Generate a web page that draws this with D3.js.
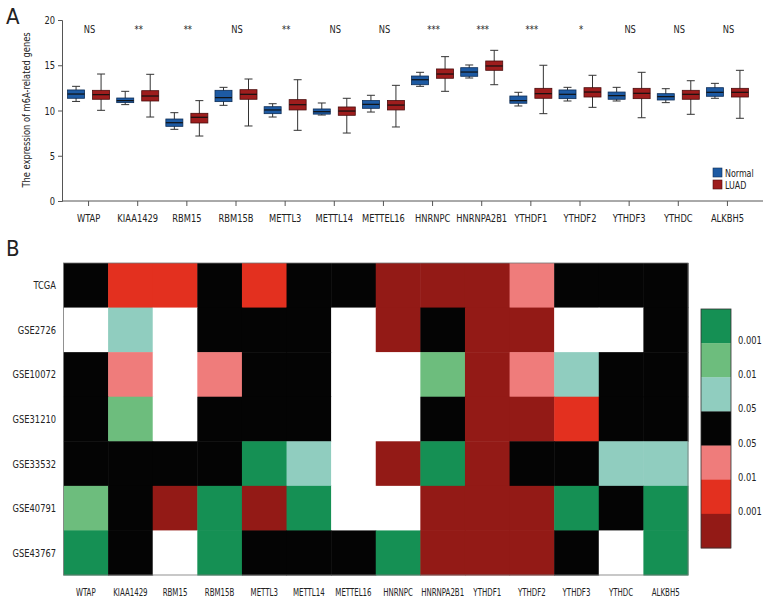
<!DOCTYPE html>
<html>
<head>
<meta charset="utf-8">
<script src="https://cdn.jsdelivr.net/npm/d3@7"></script>
<style>
  body { margin: 0; background: #fff; }
  svg text { font-family: "Liberation Sans Narrow", "DejaVu Sans Condensed", "Roboto Condensed", sans-serif; fill: #222; }
</style>
</head>
<body>
<div id="chart"></div>
<script>
// ---- data ----
const genes = ["WTAP", "KIAA1429", "RBM15", "RBM15B", "METTL3", "METTL14", "METTEL16",
  "HNRNPC", "HNRNPA2B1", "YTHDF1", "YTHDF2", "YTHDF3", "YTHDC", "ALKBH5"];
const groups = ["Normal", "LUAD"];
const signif = ["NS", "**", "**", "NS", "**", "NS", "NS", "***", "***", "***", "*", "NS", "NS", "NS"];

// [whisker low, q1, median, q3, whisker high]
const normalStats = [
  [11.0, 11.35, 11.82, 12.27, 12.67],
  [10.65, 10.87, 11.09, 11.38, 12.12],
  [7.92, 8.25, 8.65, 9.06, 9.76],
  [10.57, 10.98, 11.42, 12.23, 12.56],
  [9.28, 9.65, 10.06, 10.42, 10.75],
  [9.5, 9.6, 9.87, 10.17, 10.83],
  [9.83, 10.24, 10.68, 11.1, 11.68],
  [12.67, 12.85, 13.4, 13.81, 14.22],
  [13.59, 13.78, 14.25, 14.73, 15.03],
  [10.5, 10.8, 11.09, 11.6, 12.01],
  [11.05, 11.31, 11.79, 12.27, 12.56],
  [11.05, 11.24, 11.64, 12.04, 12.56],
  [10.87, 11.16, 11.53, 11.86, 12.41],
  [11.35, 11.57, 12.01, 12.52, 13.0]
];
const luadStats = [
  [10.02, 11.24, 11.75, 12.23, 14.03],
  [9.28, 11.05, 11.6, 12.19, 14.0],
  [7.18, 8.62, 9.25, 9.69, 11.09],
  [8.29, 11.24, 11.79, 12.3, 13.48],
  [7.81, 10.06, 10.64, 11.2, 13.4],
  [7.51, 9.47, 9.94, 10.39, 11.35],
  [8.18, 10.06, 10.6, 11.1, 12.78],
  [12.12, 13.56, 14.03, 14.59, 15.95],
  [12.85, 14.44, 14.92, 15.47, 16.65],
  [9.65, 11.35, 11.86, 12.45, 15.0],
  [10.35, 11.49, 12.04, 12.52, 13.89],
  [9.2, 11.31, 11.9, 12.45, 14.22],
  [9.58, 11.24, 11.79, 12.23, 13.29],
  [9.14, 11.49, 12.01, 12.45, 14.44]
];
const yTicks = [0, 5, 10, 15, 20];

const datasets = ["TCGA", "GSE2726", "GSE10072", "GSE31210", "GSE33532", "GSE40791", "GSE43767"];
// levels: g3 g2 g1 (down, p<0.001/0.01/0.05), ns, r1 r2 r3 (up), na = no data
const heatLevels = [
  ["ns", "r2", "r2", "ns", "r2", "ns", "ns", "r3", "r3", "r3", "r1", "ns", "ns", "ns"],
  ["na", "g1", "na", "ns", "ns", "ns", "na", "r3", "ns", "r3", "r3", "na", "na", "ns"],
  ["ns", "r1", "na", "r1", "ns", "ns", "na", "na", "g2", "r3", "r1", "g1", "ns", "ns"],
  ["ns", "g2", "na", "ns", "ns", "ns", "na", "na", "ns", "r3", "r3", "r2", "ns", "ns"],
  ["ns", "ns", "ns", "ns", "g3", "g1", "na", "r3", "g3", "r3", "ns", "ns", "g1", "g1"],
  ["g2", "ns", "r3", "g3", "r3", "g3", "na", "na", "r3", "r3", "r3", "g3", "ns", "g3"],
  ["g3", "ns", "na", "g3", "ns", "ns", "ns", "g3", "r3", "r3", "r3", "ns", "na", "g3"]
];
const legendLevels = ["g3", "g2", "g1", "ns", "r1", "r2", "r3"];
const legendLabels = ["0.001", "0.01", "0.05", "0.05", "0.01", "0.001"];

const levelColor = {
  g3: "#159054", g2: "#6dbd7d", g1: "#90cdbf", ns: "#040404",
  r1: "#ef7c7b", r2: "#e3301f", r3: "#931a16", na: "#ffffff"
};
const groupColor = { Normal: "#1d5aa3", LUAD: "#9e1d1d" };
const groupStroke = { Normal: "#0e2d55", LUAD: "#4a0c0c" };

// ---- svg ----
const W = 780, H = 612;
const svg = d3.select("#chart").append("svg").attr("width", W).attr("height", H);

// ===== Panel A =====
const x = d3.scaleBand().domain(genes).range([64, 752]);
const sub = d3.scaleBand().domain(groups).range([-21, 21]).paddingInner(0.32);
const y = d3.scaleLinear().domain([0, 20]).range([201, 20]);

svg.append("text").attr("class", "panel").attr("x", 6).attr("y", 24).attr("font-size", 22).text("A");

const yAxis = svg.append("g").attr("transform", "translate(62,0)")
  .call(d3.axisLeft(y).tickValues(yTicks).tickSize(4).tickPadding(3));
yAxis.selectAll("text").attr("font-size", 11);
yAxis.selectAll("line, path").attr("stroke", "#555");

const xAxis = svg.append("g").attr("transform", "translate(0,201)")
  .call(d3.axisBottom(x).tickSize(5).tickPadding(8).tickSizeOuter(0));
xAxis.select(".domain").remove();
xAxis.selectAll("line").attr("stroke", "#555");
xAxis.selectAll("text").attr("font-size", 11);
svg.append("line").attr("x1", 62).attr("x2", 763).attr("y1", 201).attr("y2", 201).attr("stroke", "#555");

svg.append("text")
  .attr("transform", "translate(30,110) rotate(-90)")
  .attr("text-anchor", "middle").attr("font-size", 11)
  .text("The expression of m6A-related genes");

const statsBy = { Normal: normalStats, LUAD: luadStats };
const boxes = [];
genes.forEach((g, i) => groups.forEach(grp => boxes.push({ gene: g, grp, s: statsBy[grp][i] })));

const bw = sub.bandwidth();
const bx = svg.append("g").selectAll("g").data(boxes).join("g")
  .attr("transform", d => `translate(${x(d.gene) + x.bandwidth() / 2 + sub(d.grp)},0)`);

bx.append("line").attr("x1", bw / 2).attr("x2", bw / 2)
  .attr("y1", d => y(d.s[0])).attr("y2", d => y(d.s[4]))
  .attr("stroke", "#333").attr("stroke-width", 1);
bx.append("line").attr("x1", bw / 2 - 4).attr("x2", bw / 2 + 4)
  .attr("y1", d => y(d.s[4])).attr("y2", d => y(d.s[4])).attr("stroke", "#333");
bx.append("line").attr("x1", bw / 2 - 4).attr("x2", bw / 2 + 4)
  .attr("y1", d => y(d.s[0])).attr("y2", d => y(d.s[0])).attr("stroke", "#333");
bx.append("rect").attr("x", 0).attr("width", bw)
  .attr("y", d => y(d.s[3])).attr("height", d => y(d.s[1]) - y(d.s[3]))
  .attr("fill", d => groupColor[d.grp]).attr("stroke", d => groupStroke[d.grp]).attr("stroke-width", 0.8);
bx.append("line").attr("x1", 0).attr("x2", bw)
  .attr("y1", d => y(d.s[2])).attr("y2", d => y(d.s[2]))
  .attr("stroke", "#111").attr("stroke-width", 1.2);

svg.append("g").selectAll("text").data(genes).join("text")
  .attr("x", d => x(d) + x.bandwidth() / 2 + 1).attr("y", 33)
  .attr("text-anchor", "middle").attr("font-size", 11).attr("fill", "#444")
  .text((d, i) => signif[i]);

const leg = svg.append("g").selectAll("g").data(groups).join("g")
  .attr("transform", (d, i) => `translate(713,${168 + i * 12})`);
leg.append("rect").attr("width", 9).attr("height", 9)
  .attr("fill", d => groupColor[d]).attr("stroke", d => groupStroke[d]).attr("stroke-width", 0.6);
leg.append("text").attr("x", 12).attr("y", 8.5).attr("font-size", 10.5).text(d => d);

// ===== Panel B =====
svg.append("text").attr("class", "panel").attr("x", 6).attr("y", 256).attr("font-size", 22).text("B");

const hx = d3.scaleBand().domain(genes).range([63.5, 688]);
const hy = d3.scaleBand().domain(datasets).range([263, 575]);

const cells = [];
datasets.forEach((ds, r) => genes.forEach((g, c) => cells.push({ ds, g, lvl: heatLevels[r][c] })));

svg.append("g").selectAll("rect").data(cells).join("rect")
  .attr("x", d => hx(d.g)).attr("y", d => hy(d.ds))
  .attr("width", hx.bandwidth() + 0.5).attr("height", hy.bandwidth() + 0.5)
  .attr("fill", d => levelColor[d.lvl]);
svg.append("rect").attr("x", 63.5).attr("y", 263).attr("width", 688 - 63.5).attr("height", 575 - 263)
  .attr("fill", "none").attr("stroke", "#777").attr("stroke-width", 0.8);

svg.append("g").selectAll("text").data(datasets).join("text")
  .attr("x", 56).attr("y", d => hy(d) + hy.bandwidth() / 2 + 4)
  .attr("text-anchor", "end").attr("font-size", 11).text(d => d);

svg.append("g").selectAll("text").data(genes).join("text")
  .attr("class", "tight")
  .attr("x", d => hx(d) + hx.bandwidth() / 2).attr("y", 596)
  .attr("text-anchor", "middle").attr("font-size", 11).text(d => d);

// colour key
const ky = d3.scaleBand().domain(legendLevels).range([309, 548]);
svg.append("g").selectAll("rect").data(legendLevels).join("rect")
  .attr("x", 701).attr("y", d => ky(d)).attr("width", 30).attr("height", ky.bandwidth() + 0.3)
  .attr("fill", d => levelColor[d]);
svg.append("rect").attr("x", 701).attr("y", 309).attr("width", 30).attr("height", 548 - 309)
  .attr("fill", "none").attr("stroke", "#333").attr("stroke-width", 0.8);
svg.append("g").selectAll("text").data(legendLabels).join("text")
  .attr("x", 738).attr("y", (d, i) => ky(legendLevels[i + 1]) + 1)
  .attr("font-size", 11).text(d => d);

// the original uses a narrow face: squeeze every label horizontally
svg.selectAll("text").filter(function () { return !this.classList.contains("panel"); })
  .each(function () {
    const len = this.getComputedTextLength();
    const k = this.classList.contains("tight") ? 0.71 : 0.84;
    d3.select(this).attr("textLength", len * k).attr("lengthAdjust", "spacingAndGlyphs");
  });
</script>
</body>
</html>
